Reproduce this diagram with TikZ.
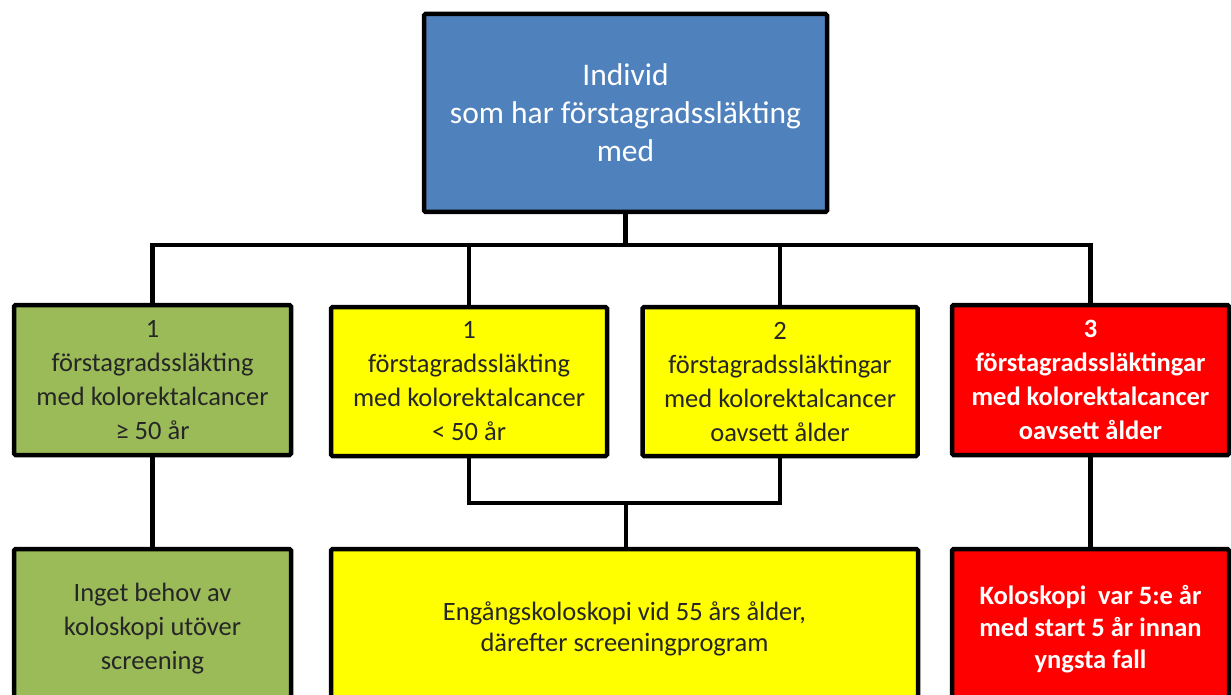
\documentclass[tikz,border=0pt]{standalone}
\usepackage{fontspec}
\setmainfont{Carlito}
\definecolor{cblue}{HTML}{4F81BD}
\definecolor{cgreen}{HTML}{9BBB59}
\definecolor{cyellow}{HTML}{FFFF00}
\definecolor{cred}{HTML}{FF0000}
\begin{document}
\begin{tikzpicture}[x=1pt,y=-1pt,
  box/.style={draw=black,line width=4.5pt,rounded corners=1.5pt,align=center,inner sep=0pt,
    font=\fontsize{26.5}{34}\selectfont,text=black!85},
  wire/.style={line width=4.5pt,line cap=rect}]
\useasboundingbox (0,0) rectangle (1231,695);
\clip (0,0) rectangle (1231,695);
\node[box,fill=cblue,text=white,minimum width=403pt,minimum height=198pt,font=\fontsize{31.5}{38}\selectfont]
  (top) at (625.5,113) {Individ\\som har förstagradssläkting\\med};
\node[box,fill=cgreen,minimum width=277pt,minimum height=150pt] (g1) at (152.5,380)
  {1\\förstagradssläkting\\med kolorektalcancer\\≥ 50 år};
\node[box,fill=cyellow,minimum width=276pt,minimum height=149pt] (y1) at (469,381.5)
  {1\\förstagradssläkting\\med kolorektalcancer\\< 50 år};
\node[box,fill=cyellow,minimum width=275pt,minimum height=149pt] (y2) at (780,381.5)
  {2\\förstagradssläktingar\\med kolorektalcancer\\oavsett ålder};
\node[box,fill=cred,text=white,font=\bfseries\fontsize{26.5}{34}\selectfont,minimum width=277pt,minimum height=150pt] (r1) at (1090.5,380)
  {3\\förstagradssläktingar\\med kolorektalcancer\\oavsett ålder};
\node[box,fill=cgreen,minimum width=277pt,minimum height=160pt] (g2) at (152.5,629)
  {Inget behov av\\koloskopi utöver\\screening};
\node[box,fill=cyellow,minimum width=587pt,minimum height=160pt,font=\fontsize{26.5}{31}\selectfont] (yb) at (624.5,629)
  {Engångskoloskopi vid 55 års ålder,\\därefter screeningprogram};
\node[box,fill=cred,text=white,font=\bfseries\fontsize{26.5}{32}\selectfont,minimum width=277pt,minimum height=160pt] (r2) at (1090.5,629)
  {Koloskopi\ \ var 5:e år\\med start 5 år innan\\yngsta fall};
\coordinate (bus) at (626,245);
\coordinate (j) at (626,503);
\draw[wire] (top.south) -- (top.south |- bus);
\draw[wire] (g1.north) -- (g1.north |- bus) -- (r1.north |- bus) -- (r1.north);
\draw[wire] (y1.north) -- (y1.north |- bus);
\draw[wire] (y2.north) -- (y2.north |- bus);
\draw[wire] (y1.south) |- (j) -| (y2.south);
\draw[wire] (j) -- (j |- yb.north);
\draw[wire] (g1.south) -- (g2.north);
\draw[wire] (r1.south) -- (r2.north);
\end{tikzpicture}
\end{document}
